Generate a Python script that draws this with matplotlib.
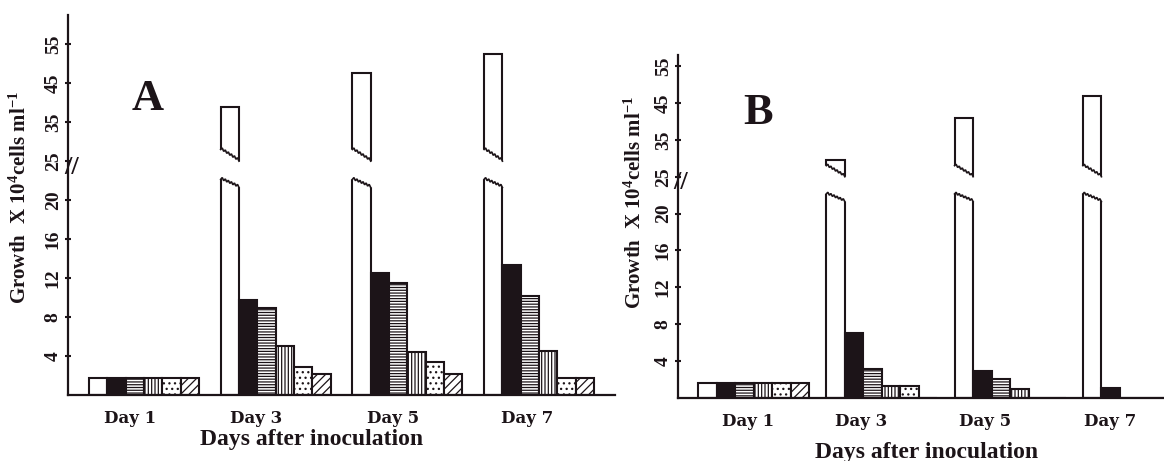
import numpy as np
import matplotlib
matplotlib.use('Agg')
import matplotlib.pyplot as plt
from matplotlib.patches import Polygon
from matplotlib.transforms import blended_transform_factory

# ---------------- data ----------------
days = ['Day 1', 'Day 3', 'Day 5', 'Day 7']
y_ticks = [4, 8, 12, 16, 20, 25, 35, 45, 55]

# panel A (growth x 10^4 cells/ml)
a_control = [1.7, 38.8, 47.7, 52.5]
a_black = [1.7, 9.8, 12.5, 13.3]
a_horizontal = [1.7, 8.9, 11.5, 10.2]
a_vertical = [1.7, 5.0, 4.4, 4.5]
a_dotted = [1.7, 2.9, 3.4, 1.7]
a_diagonal = [1.7, 2.2, 2.2, 1.7]

# panel B
b_control = [1.6, 29.5, 41.0, 46.8]
b_black = [1.6, 7.1, 2.9, 1.1]
b_horizontal = [1.6, 3.1, 2.1, 0.0]
b_vertical = [1.6, 1.3, 1.0, 0.0]
b_dotted = [1.6, 1.3, 0.0, 0.0]
b_diagonal = [1.6, 0.0, 0.0, 0.0]

# ---------------- style ----------------
INK = '#1c1418'
SERIF = 'Liberation Serif'
plt.rcParams['hatch.linewidth'] = 0.9
plt.rcParams['hatch.color'] = INK
plt.rcParams['mathtext.fontset'] = 'custom'
plt.rcParams['mathtext.rm'] = 'Liberation Serif:bold'
plt.rcParams['mathtext.bf'] = 'Liberation Serif:bold'
plt.rcParams['mathtext.it'] = 'Liberation Serif:bold'

series_styles = [
    dict(facecolor='white', hatch=None),
    dict(facecolor=INK, hatch=None),
    dict(facecolor='white', hatch='------'),
    dict(facecolor='white', hatch='|||||'),
    dict(facecolor='white', hatch='...'),
    dict(facecolor='white', hatch='////'),
]

# broken-axis scale: linear 0-22, compressed above 25
XP = np.array([-1000.0, 0.0, 22.0, 25.0, 1000.0])
FP = np.array([-1000.0, 0.0, 22.0, 24.0, 24.0 + 975.0 * 0.4])


def fwd(y):
    return np.interp(np.asarray(y, dtype=float), XP, FP)


def inv(f):
    return np.interp(np.asarray(f, dtype=float), FP, XP)


LOW_CUT = (22.2, 21.3)   # zigzag top of lower piece (left, right)
HIGH_CUT = (28.0, 25.0)  # zigzag bottom of upper piece (left, right)


def zigzag(x0, x1, yl, yr, n=6, amp=0.25):
    xs = np.linspace(x0, x1, 2 * n + 1)
    fs = np.linspace(fwd(yl), fwd(yr), 2 * n + 1)
    offs = np.array([amp if k % 2 else 0.0 for k in range(2 * n + 1)])
    return xs, inv(fs + offs)


def draw_panel(ax, series, width, ymax, xlim, label_pos):
    ax.set_yscale('function', functions=(fwd, inv))
    ax.set_ylim(0, ymax)
    ax.set_xlim(*xlim)
    groups = np.arange(len(days))
    for i, (vals, st) in enumerate(zip(series, series_styles)):
        xs = groups + i * width
        bars = ax.bar(xs, vals, width=width, align='edge', edgecolor=INK,
                      linewidth=1.5, zorder=2, **st)
        if i == 0:
            pad = width * 0.3
            for g, (b, v) in enumerate(zip(bars, vals)):
                if v <= HIGH_CUT[0]:
                    continue
                x0, x1 = xs[g], xs[g] + width
                # lower piece
                zx, zy = zigzag(x0, x1, *LOW_CUT)
                verts = [(x0 - pad, -10), (x0 - pad, zy[0])] + list(zip(zx, zy)) + \
                        [(x1 + pad, zy[-1]), (x1 + pad, -10)]
                b.set_clip_path(Polygon(verts, closed=True, transform=ax.transData))
                ax.plot(zx, zy, color=INK, lw=1.2, zorder=3, solid_joinstyle='miter')
                # upper piece
                ub = ax.bar([x0], [v], width=width, align='edge', edgecolor=INK,
                            linewidth=1.5, zorder=2, **st)[0]
                zx2, zy2 = zigzag(x0, x1, *HIGH_CUT)
                verts2 = [(x0 - pad, 900), (x0 - pad, zy2[0])] + list(zip(zx2, zy2)) + \
                         [(x1 + pad, zy2[-1]), (x1 + pad, 900)]
                ub.set_clip_path(Polygon(verts2, closed=True, transform=ax.transData))
                ax.plot(zx2, zy2, color=INK, lw=1.2, zorder=3, solid_joinstyle='miter')

    for s in ['top', 'right']:
        ax.spines[s].set_visible(False)
    for s in ['left', 'bottom']:
        ax.spines[s].set_linewidth(1.6)
        ax.spines[s].set_color(INK)
    ax.set_yticks(y_ticks)
    ax.set_yticklabels([str(t) for t in y_ticks], rotation=90, va='center',
                       fontfamily=SERIF, fontweight='bold', fontsize=14, color=INK)
    ax.tick_params(axis='y', direction='inout', length=5, width=1.5, pad=2, color=INK)
    ax.set_xticks(groups + np.array(label_pos))
    ax.set_xticklabels(days, fontfamily='DejaVu Serif', fontweight='bold',
                       fontsize=12, color=INK)
    ax.tick_params(axis='x', length=0, pad=11)
    ax.minorticks_off()
    # axis break mark
    tr = blended_transform_factory(ax.transAxes, ax.transData)
    ax.text(0.006, 24.0, '//', transform=tr, ha='center', va='center',
            fontsize=19, fontfamily=SERIF, fontweight='bold', color=INK, zorder=4)
    ax.patch.set_alpha(0)


W, H = 1164, 461
fig = plt.figure(figsize=(W / 100, H / 100), dpi=100)
fig.patch.set_facecolor('white')

axA = fig.add_axes([68 / W, 66 / H, (615 - 68) / W, 380 / H])
draw_panel(axA, [a_control, a_black, a_horizontal, a_vertical, a_dotted, a_diagonal],
           width=18.3 / 131.7, ymax=62.5,
           xlim=((68 - 89) / 131.7, (615 - 89) / 131.7),
           label_pos=[0.31, 0.27, 0.31, 0.33])

axB = fig.add_axes([678 / W, 63 / H, (W - 678) / W, 343 / H])
draw_panel(axB, [b_control, b_black, b_horizontal, b_vertical, b_dotted, b_diagonal],
           width=18.5 / 128.3, ymax=58.0,
           xlim=((678 - 698) / 128.3, (W - 698) / 128.3),
           label_pos=[0.39, 0.27, 0.24, 0.21])

ylabel = r'Growth  X 10$^{4}$cells ml$^{-1}$'
fig.text(20 / W, 1 - 198 / H, ylabel, rotation=90, ha='center', va='center',
         fontfamily=SERIF, fontweight='bold', fontsize=15, color=INK)
fig.text(635 / W, 1 - 203 / H, ylabel, rotation=90, ha='center', va='center',
         fontfamily=SERIF, fontweight='bold', fontsize=15, color=INK)

fig.text(148 / W, 1 - 99 / H, 'A', ha='center', va='center', fontfamily=SERIF,
         fontweight='bold', fontsize=32, color=INK)
fig.text(758 / W, 1 - 113 / H, 'B', ha='center', va='center', fontfamily=SERIF,
         fontweight='bold', fontsize=32, color=INK)

fig.text(312 / W, 1 - 439 / H, 'Days after inoculation', ha='center', va='center',
         fontfamily=SERIF, fontweight='bold', fontsize=17, color=INK)
fig.text(927 / W, 1 - 452 / H, 'Days after inoculation', ha='center', va='center',
         fontfamily=SERIF, fontweight='bold', fontsize=17, color=INK)

fig.savefig('out.png', dpi=100, facecolor='white')
